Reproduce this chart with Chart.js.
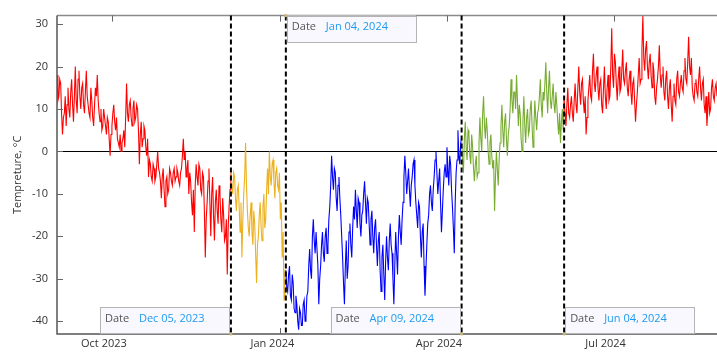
<!DOCTYPE html>
<html><head><meta charset="utf-8">
<script src="https://cdn.jsdelivr.net/npm/chart.js@4/dist/chart.umd.min.js"></script>
<style>html,body{margin:0;padding:0;background:#fff}#wrap{width:717px;height:352px;position:relative}</style>
</head><body><div id="wrap"><canvas id="c" width="717" height="352"></canvas></div>
<script>
// Temperatures twice a day, day 0 = Sep 01, 2023
const startDate = '2023-09-01';
const tempsMidnight = [
  18,13,16,4,9,6,15,8,17,7,
  20,9,19,10,16,9,19,11,8,12,
  6,15,18,9,10,6,8,4,7,-1,
  6,11,5,3,1,0,3,1,16,7,
  12,6,12,8,10,-3,7,3,5,-1,
  -6,-3,-7,-4,-6,0,-5,-11,-4,-13,
  -6,-9,-5,-8,-4,-6,-5,-8,-4,3,
  0,-4,-10,-7,-15,-19,-3,-8,-4,-10,
  -6,-25,-12,-4,-20,-6,-21,-9,-17,-10,
  -19,-15,-20,-29,-13,-5,-10,-6,-14,-8,
  -19,-25,-10,2,-14,-20,-12,-22,-17,-31,
  -20,-12,-21,-10,-16,-4,0,-8,-2,-11,
  -4,-9,-16,-25,-35,-28,-33,-27,-35,-31,
  -38,-36,-42,-38,-41,-35,-39,-33,-23,-30,
  -16,-24,-19,-36,-27,-19,-26,-18,-22,-13,
  -1,-9,-5,-14,-6,-15,-25,-36,-21,-27,
  -17,-25,-13,-9,-18,-12,-20,-14,-7,-17,
  -12,-22,-14,-24,-16,-27,-19,-33,-22,-35,
  -20,-28,-17,-24,-36,-19,-29,-15,-22,-12,
  -1,-10,-4,-13,-6,-2,-12,-18,-13,-25,
  -17,-34,-22,-15,-8,-14,-6,0,-10,-4,
  -19,-9,-3,1,-8,-3,-13,-24,-5,5,
  -3,3,-5,7,-2,4,-3,1,-7,-1,
  -5,8,0,13,3,5,-3,4,-4,-14,
  0,-8,2,11,1,9,-1,6,17,9,
  14,18,6,9,0,13,2,10,5,12,
  1,12,5,10,17,8,12,21,9,19,
  10,16,9,11,4,2,10,12,6,15,
  8,13,7,16,9,20,11,17,9,4,
  12,18,12,23,14,20,12,17,9,20,
  10,18,13,29,15,21,12,20,15,24,
  16,21,13,19,11,17,7,14,22,17,
  32,19,26,17,23,15,19,11,17,25,
  15,20,12,19,10,17,7,16,11,19,
  13,18,14,22,16,27,18,15,12,17,
  13,20,12,17,9,6,14,10,17,12,16
];
const tempsNoon = [
  12,17,9,8,13,11,10,14,11,13,
  12,17,13,15,11,14,13,9,15,8,
  11,13,12,7,5,10,6,8,3,4,
  9,7,8,2,4,2,5,8,9,11,
  8,10,7,11,5,4,1,6,1,3,
  -2,-6,-3,-7,-3,-4,-7,-6,-9,-7,
  -10,-4,-7,-5,-7,-4,-7,-5,-1,-2,
  -6,-2,-5,-12,-9,-8,-6,-3,-9,-5,
  -14,-16,-7,-12,-10,-15,-12,-14,-8,-16,
  -11,-21,-16,-18,-9,-8,-5,-11,-9,-13,
  -12,-16,-6,-8,-18,-15,-19,-14,-24,-22,
  -15,-18,-13,-18,-9,-10,-6,-3,-7,-5,
  -8,-5,-12,-19,-28,-32,-29,-34,-29,-37,
  -34,-40,-37,-41,-36,-40,-34,-27,-28,-20,
  -21,-19,-27,-30,-22,-24,-20,-24,-16,-8,
  -6,-4,-11,-8,-11,-20,-31,-27,-30,-19,
  -22,-18,-16,-14,-11,-17,-15,-10,-12,-11,
  -17,-16,-20,-18,-22,-21,-28,-25,-29,-26,
  -25,-21,-22,-30,-27,-24,-20,-19,-16,-6,
  -5,-7,-9,-8,-3,-8,-15,-12,-20,-19,
  -27,-28,-17,-10,-12,-9,-2,-5,-7,-12,
  -14,-5,-6,-4,-1,-9,-18,-12,-2,-1,
  2,-2,3,1,5,-1,4,-4,-3,-6,
  2,3,9,6,8,0,2,-1,-2,-6,
  -4,-2,6,5,7,3,4,10,12,14,
  10,12,11,3,7,6,8,4,10,6,
  6,8,9,13,11,14,16,14,15,12,
  13,11,14,7,9,7,5,9,11,9,
  11,9,12,11,15,14,16,12,13,8,
  15,13,19,16,18,15,16,11,15,13,
  15,12,20,18,23,16,17,14,19,17,
  19,15,17,14,16,12,11,18,16,24,
  22,24,20,21,18,21,13,15,20,18,
  18,14,17,13,15,11,13,12,17,14,
  16,15,19,17,21,20,22,13,16,14,
  17,15,16,11,13,10,9,15,13,15,13
];
// x tick positions (days since start) and labels
const tickDays = [30, 122, 213, 304];
const tickLabels = ['Oct 2023', 'Jan 2024', 'Apr 2024', 'Jul 2024'];
const yTicks = [-40, -30, -20, -10, 0, 10, 20, 30];
// marked dates (days since start)
const eventDays = [95, 125, 221, 277];
const eventLabels = ['Dec 05, 2023', 'Jan 04, 2024', 'Apr 09, 2024', 'Jun 04, 2024'];
const periodColors = ['#FF0000', '#EDB120', '#0000FF', '#77AC30', '#FF0000'];

const boxLayout = [
  {side: 'left', pos: 'bottom'},
  {side: 'right', pos: 'top'},
  {side: 'left', pos: 'bottom'},
  {side: 'right', pos: 'bottom'}
];

const points = tempsMidnight.flatMap((v, i) => [{x: i, y: v}, {x: i + 0.5, y: tempsNoon[i]}]);
function colorForDay(day) {
  let k = 0;
  while (k < eventDays.length && day >= eventDays[k]) k++;
  return periodColors[k];
}

const FONT = '"Open Sans", "Noto Sans", sans-serif';

const decor = {
  id: 'decor',
  beforeDatasetsDraw(chart) {
    const {ctx, chartArea: a, scales: {y}} = chart;
    ctx.save();
    const y0 = Math.round(y.getPixelForValue(0)) + 0.5;
    ctx.strokeStyle = '#000';
    ctx.lineWidth = 1;
    ctx.beginPath(); ctx.moveTo(a.left, y0); ctx.lineTo(a.right, y0); ctx.stroke();
    ctx.restore();
  },
  afterDatasetsDraw(chart) {
    const {ctx, chartArea: a, scales: {x, y}} = chart;
    ctx.save();
    // frame
    ctx.lineWidth = 1.5;
    ctx.strokeStyle = '#8a8a8a';
    ctx.beginPath(); ctx.moveTo(a.left, a.top); ctx.lineTo(a.right, a.top); ctx.stroke();
    ctx.strokeStyle = '#555';
    ctx.beginPath(); ctx.moveTo(a.left, a.top); ctx.lineTo(a.left, a.bottom); ctx.lineTo(a.right, a.bottom); ctx.stroke();
    // ticks
    ctx.lineWidth = 1;
    ctx.strokeStyle = '#666';
    yTicks.forEach(v => {
      const py = Math.round(y.getPixelForValue(v)) + 0.5;
      ctx.beginPath(); ctx.moveTo(a.left, py); ctx.lineTo(a.left + 6, py); ctx.stroke();
    });
    tickDays.forEach(v => {
      const px = Math.round(x.getPixelForValue(v)) + 0.5;
      ctx.beginPath(); ctx.moveTo(px, a.bottom); ctx.lineTo(px, a.bottom - 6); ctx.stroke();
      ctx.beginPath(); ctx.moveTo(px, a.top); ctx.lineTo(px, a.top + 6); ctx.stroke();
    });
    // dashed event lines
    ctx.strokeStyle = '#000';
    ctx.lineWidth = 2;
    ctx.setLineDash([5, 3]);
    eventDays.forEach(d => {
      const px = x.getPixelForValue(d);
      ctx.beginPath(); ctx.moveTo(px, a.top); ctx.lineTo(px, a.bottom); ctx.stroke();
    });
    ctx.setLineDash([]);
    // label boxes
    const bw = 129, bh = 27;
    eventDays.forEach((d, i) => {
      const px = x.getPixelForValue(d);
      const L = boxLayout[i];
      const bx = L.side === 'left' ? px - 2 - bw : px + 1;
      const by = L.pos === 'top' ? a.top : a.bottom - bh;
      ctx.fillStyle = '#f8f8fe';
      ctx.fillRect(bx, by, bw, bh);
      ctx.strokeStyle = '#b4b4b4';
      ctx.lineWidth = 1;
      ctx.strokeRect(Math.round(bx) + 0.5, Math.round(by) + 0.5, bw, bh - 1);
      ctx.font = '11px ' + FONT;
      ctx.textBaseline = 'middle';
      ctx.textAlign = 'left';
      ctx.fillStyle = '#555';
      ctx.fillText('Date', bx + 5, by + bh / 2 - 2);
      ctx.fillStyle = '#1E9BF0';
      ctx.fillText(eventLabels[i], bx + 39, by + bh / 2 - 2);
      ctx.fillStyle = '#c9b77a';
      ctx.beginPath();
      ctx.arc(px, L.pos === 'top' ? a.top : a.bottom, 1.6, 0, Math.PI * 2);
      ctx.fill();
    });
    ctx.restore();
  }
};

new Chart(document.getElementById('c'), {
  type: 'line',
  data: {
    datasets: [{
      data: points,
      borderWidth: 1.1,
      pointRadius: 0,
      tension: 0,
      borderColor: '#FF0000',
      segment: { borderColor: c => colorForDay(c.p0.parsed.x) }
    }]
  },
  options: {
    responsive: false,
    animation: false,
    devicePixelRatio: 1,
    layout: { padding: { top: 13, right: 0, left: 0, bottom: 0 } },
    plugins: { legend: { display: false }, tooltip: { enabled: false } },
    scales: {
      x: {
        type: 'linear', min: 0, max: 360.5,
        afterBuildTicks: s => { s.ticks = tickDays.map(v => ({value: v})); },
        afterFit: s => { s.height = 18; },
        grid: { display: false, drawTicks: false },
        border: { display: false },
        ticks: {
          autoSkip: false, maxRotation: 0, labelOffset: -8, padding: 3,
          color: '#333', font: { size: 11, family: FONT },
          callback: v => tickLabels[tickDays.indexOf(v)] || ''
        }
      },
      y: {
        min: -43, max: 32,
        afterBuildTicks: s => { s.ticks = yTicks.map(v => ({value: v})); },
        afterFit: s => { s.width = 57; },
        grid: { display: false, drawTicks: false },
        border: { display: false },
        ticks: { padding: 9, color: '#333', font: { size: 11, family: FONT } },
        title: { display: true, text: 'Tempreture, °C', color: '#333',
                 font: { size: 11, family: FONT }, padding: { top: 11, bottom: 0 } }
      }
    }
  },
  plugins: [decor]
});
</script>
</body></html>
